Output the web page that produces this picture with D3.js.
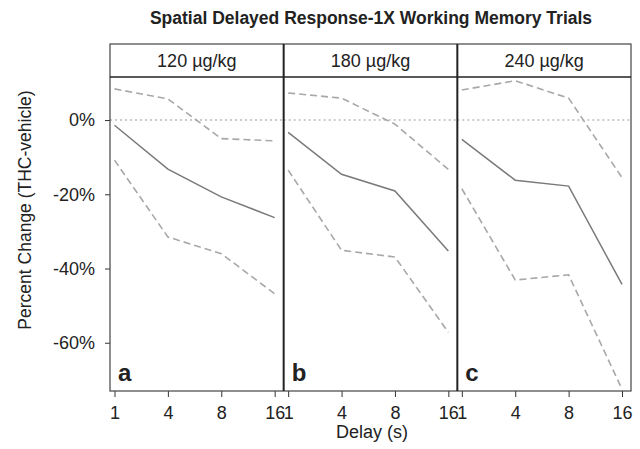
<!DOCTYPE html>
<html>
<head>
<meta charset="utf-8">
<script src="https://cdn.jsdelivr.net/npm/d3@7"></script>
<style>
  body { margin: 0; background: #fff; }
  text { font-family: "Liberation Sans", Arial, sans-serif; fill: #222; }
</style>
</head>
<body>
<div id="graph"></div>
<script>
// data
const delays = ["1", "4", "8", "16"];
const doses = ["120 \u00b5g/kg", "180 \u00b5g/kg", "240 \u00b5g/kg"];
const panelLetters = ["a", "b", "c"];
const yTicks = [0, -20, -40, -60];

const meanChange = [
  [-1.4, -13.2, -20.7, -26.3],
  [-3.3, -14.6, -19.1, -35.3],
  [-5.2, -16.2, -17.8, -44.3]
];
const upperCI = [
  [8.4, 5.7, -5.0, -5.6],
  [7.3, 5.9, -1.1, -13.3],
  [8.1, 10.6, 5.9, -15.5]
];
const lowerCI = [
  [-10.8, -31.5, -36.0, -46.8],
  [-13.5, -35.1, -36.9, -57.2],
  [-18.5, -43.1, -41.7, -72.5]
];

const w = 640, h = 449;
const mLeft = 110, mRight = 631, stripTop = 44, plotTop = 77, plotBottom = 391;
const fontSize = 18;

const svg = d3.select("div#graph")
  .append("svg")
  .attr("width", w)
  .attr("height", h);

const panel = d3.scaleBand().domain(d3.range(doses.length)).range([mLeft, mRight]);
const x = d3.scalePoint().domain(delays).range([4.5, panel.bandwidth() - 9]);
const y = d3.scaleLinear().domain([-73, 11.6]).range([plotBottom, plotTop]);

// title
svg.append("text")
  .attr("x", 371).attr("y", 24)
  .attr("text-anchor", "middle")
  .style("font-size", "17.5px").style("font-weight", "bold")
  .text("Spatial Delayed Response-1X Working Memory Trials");

// y axis label
svg.append("text")
  .attr("transform", "translate(31,210) rotate(-90)")
  .attr("text-anchor", "middle")
  .style("font-size", "17.5px")
  .text("Percent Change (THC-vehicle)");

svg.append("text")
  .attr("x", 372).attr("y", 438)
  .attr("text-anchor", "middle")
  .style("font-size", fontSize + "px")
  .text("Delay (s)");

// y axis
const yAxis = svg.append("g")
  .attr("transform", "translate(" + mLeft + ",0)")
  .call(d3.axisLeft(y).tickValues(yTicks).tickSize(5).tickPadding(10).tickFormat(d => d + "%"));
yAxis.select(".domain").remove();
yAxis.selectAll(".tick line").attr("stroke", "#333");
yAxis.selectAll("text").style("font-size", fontSize + "px").attr("fill", "#222");

const line = d3.line()
  .x((d, i) => x(delays[i]))
  .y(d => y(d));

doses.forEach((dose, p) => {
  const g = svg.append("g").attr("transform", "translate(" + panel(p) + ",0)");
  const pw = panel.bandwidth();

  // zero reference
  g.append("line")
    .attr("x1", 0).attr("x2", pw)
    .attr("y1", y(0)).attr("y2", y(0))
    .attr("stroke", "#bbb").attr("stroke-width", 1.6)
    .attr("stroke-dasharray", "2,3");

  g.append("path").datum(upperCI[p])
    .attr("d", line).attr("fill", "none")
    .attr("stroke", "#a8a8a8").attr("stroke-width", 1.6)
    .attr("stroke-dasharray", "7,4");
  g.append("path").datum(lowerCI[p])
    .attr("d", line).attr("fill", "none")
    .attr("stroke", "#a8a8a8").attr("stroke-width", 1.6)
    .attr("stroke-dasharray", "7,4");
  g.append("path").datum(meanChange[p])
    .attr("d", line).attr("fill", "none")
    .attr("stroke", "#7a7a7a").attr("stroke-width", 1.5);

  // strip
  g.append("text")
    .attr("x", pw / 2).attr("y", 67)
    .attr("text-anchor", "middle")
    .style("font-size", fontSize + "px")
    .text(dose);

  g.append("text")
    .attr("x", 8).attr("y", 381)
    .style("font-size", "24px").style("font-weight", "bold")
    .attr("fill", "#111")
    .text(panelLetters[p]);

  // x axis
  const xa = g.append("g")
    .attr("transform", "translate(0," + plotBottom + ")")
    .call(d3.axisBottom(x).tickSize(6).tickPadding(9));
  xa.select(".domain").remove();
  xa.selectAll(".tick line").attr("stroke", "#333");
  xa.selectAll("text").style("font-size", fontSize + "px").attr("fill", "#222");
});

// frame and panel borders
svg.append("rect")
  .attr("x", mLeft).attr("y", stripTop)
  .attr("width", mRight - mLeft).attr("height", plotBottom - stripTop)
  .attr("fill", "none").attr("stroke", "#444").attr("stroke-width", 1.2);
svg.append("line")
  .attr("x1", mLeft).attr("x2", mRight)
  .attr("y1", plotTop).attr("y2", plotTop)
  .attr("stroke", "#222").attr("stroke-width", 1.6);
d3.range(1, doses.length).forEach(p => {
  svg.append("line")
    .attr("x1", panel(p)).attr("x2", panel(p))
    .attr("y1", stripTop).attr("y2", plotBottom)
    .attr("stroke", "#222").attr("stroke-width", 2);
});
</script>
</body>
</html>
